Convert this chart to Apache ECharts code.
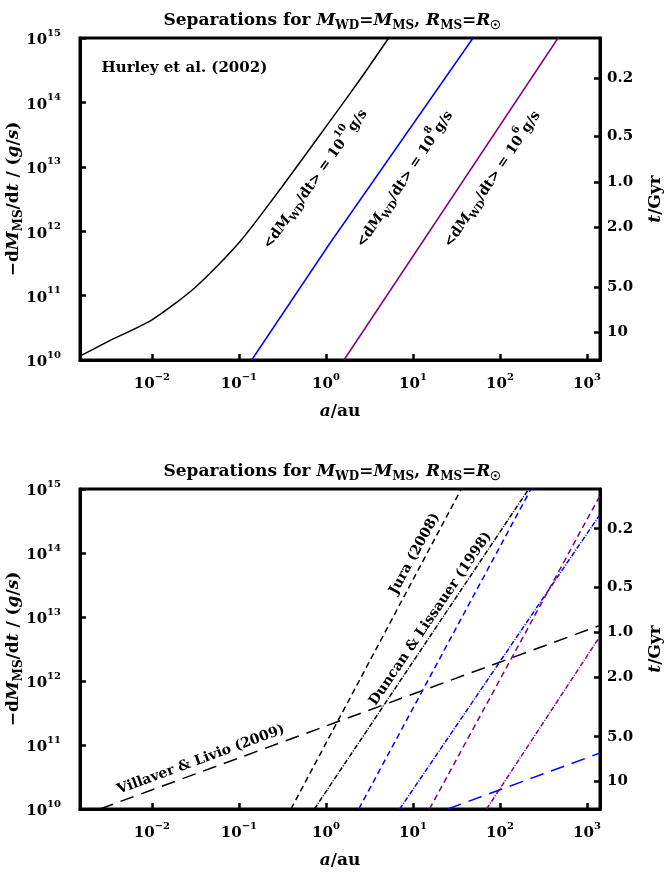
<!DOCTYPE html>
<html><head><meta charset="utf-8">
<script src="https://cdn.jsdelivr.net/npm/echarts@6/dist/echarts.min.js"></script>
<style>html,body{margin:0;padding:0;background:#fff}#c{width:665px;height:872px}</style>
</head><body><div id="c"></div><script>
// ---------------- data ----------------
const xTicks = [0.01, 0.1, 1, 10, 100, 1000];
const yTicks = [1e10, 1e11, 1e12, 1e13, 1e14, 1e15];
const tLabels = ['0.2', '0.5', '1.0', '2.0', '5.0', '10'];
const tTickMdot = [2.4e14, 2.95e13, 5.75e12, 1.15e12, 1.35e11, 2.7e10]; // where the t ticks sit on the mass-loss scale

// top panel (Hurley et al. 2002)
const hurleyBlackA = [0.00149, 0.00316, 0.01, 0.0316, 0.1, 0.316, 1.0, 2.51, 5.25];
const hurleyBlackM = [1.15e10, 1.95e10, 4.2e10, 1.35e11, 6.6e11, 5.0e12, 4.2e13, 2.35e14, 1.0e15];
const hurleyBlueA = [0.14, 1.11, 49];
const hurleyBlueM = [1e10, 6.5e11, 1e15];
const hurleyPurpleA = [1.61, 465];
const hurleyPurpleM = [1e10, 1e15];

// bottom panel
const juraBlackA = [0.396, 35.9];        const juraBlackM = [1e10, 1e15];
const duncanBlackA = [0.735, 214];       const duncanBlackM = [1e10, 1e15];
const villaverBlackA = [0.00252, 1410];  const villaverBlackM = [1e10, 7.4e12];
const juraBlueA = [2.38, 227];           const juraBlueM = [1e10, 1e15];
const duncanBlueA = [7.03, 1410];        const duncanBlueM = [1e10, 4.0e14];
const villaverBlueA = [25.1, 1410];      const villaverBlueM = [1e10, 7.5e10];
const juraPurpleA = [15.5, 1410];        const juraPurpleM = [1e10, 7.9e14];
const duncanPurpleA = [70.1, 1410];      const duncanPurpleM = [1e10, 5.0e12];

// ---------------- styling ----------------
const FONT = '"DejaVu Serif", serif';
const BLACK = '#000', BLUE = '#0000ff', PURPLE = '#800080';
const XMIN = 0.00149, XMAX = 1410, YMIN = 1e10, YMAX = 1e15;

const supRich = {
  b: {fontFamily: FONT, fontWeight: 'bold', fontSize: 15, color: '#000', lineHeight: 20, verticalAlign: 'bottom'},
  p: {fontFamily: FONT, fontWeight: 'bold', fontSize: 10, color: '#000', lineHeight: 20, verticalAlign: 'top', padding: [0, 0, 8, 0]}
};
function powLabel(v) {
  const e = Math.round(Math.log10(v));
  return '{b|10}{p|' + String(e).replace('-', '\u2212') + '}';
}
function pair(a, m) { return a.map((v, i) => [v, m[i]]); }
// keep the topmost tick a hair inside the axis extent so the log scale does not drop it
function inside(vals, max) { return vals.map(v => (v >= max ? v * (1 - 1e-9) : v)); }

function titleText() {
  return '{t|Separations for }{i|M}{s|WD}{t|=}{i|M}{s|MS}{t|, }{i|R}{s|MS}{t|=}{i|R}{s|\u2609}';
}
function mkRich(size, color) {
  return {
    t: {fontFamily: FONT, fontWeight: 'bold', fontSize: size, color: color, lineHeight: size + 6, verticalAlign: 'bottom'},
    i: {fontFamily: FONT, fontWeight: 'bold', fontStyle: 'italic', fontSize: size, color: color, lineHeight: size + 6, verticalAlign: 'bottom'},
    s: {fontFamily: FONT, fontWeight: 'bold', fontSize: Math.round(size * 0.68), color: color, lineHeight: size + 6, verticalAlign: 'bottom', padding: [0, 0, -3, 0]},
    p: {fontFamily: FONT, fontWeight: 'bold', fontSize: Math.round(size * 0.68), color: color, lineHeight: size + 6, verticalAlign: 'top', padding: [0, 0, 8, 0]}
  };
}

function xAxisCfg(gi) {
  return {
    type: 'log', gridIndex: gi, min: XMIN, max: XMAX,
    name: '{i|a}{t|/au}', nameLocation: 'middle', nameGap: 37,
    nameTextStyle: {rich: mkRich(17, '#000')},
    axisLine: {show: true, lineStyle: {color: '#000', width: 3}},
    axisTick: {show: true, inside: true, length: 6, lineStyle: {color: '#000', width: 2.5}, customValues: xTicks},
    axisLabel: {customValues: xTicks, formatter: powLabel, margin: 12, rich: supRich},
    splitLine: {show: false}, minorTick: {show: false}
  };
}
function yAxisCfg(gi) {
  const yt = inside(yTicks, YMAX);
  return {
    type: 'log', gridIndex: gi, min: YMIN, max: YMAX,
    name: '{t|\u2212d}{i|M}{s|MS}{t|/d}{i|t}{t| / (}{i|g}{t|/}{i|s}{t|)}',
    nameLocation: 'middle', nameGap: 58, nameRotate: 90, nameMoveOverlap: false,
    nameTextStyle: {rich: mkRich(17, '#000')},
    axisLine: {show: true, lineStyle: {color: '#000', width: 3}},
    axisTick: {show: true, inside: true, length: 6, lineStyle: {color: '#000', width: 2.5}, customValues: yt},
    axisLabel: {customValues: yt, formatter: powLabel, margin: 19, rich: supRich,
      showMaxLabel: true, showMinLabel: true, hideOverlap: false},
    splitLine: {show: false}
  };
}
function tAxisCfg(gi) {
  return {
    type: 'log', gridIndex: gi, min: YMIN, max: YMAX, position: 'right',
    name: '{i|t}{t|/Gyr}', nameLocation: 'middle', nameGap: 41, nameRotate: 90,
    nameTextStyle: {rich: mkRich(17, '#000')},
    axisLine: {show: true, lineStyle: {color: '#000', width: 3}},
    axisTick: {show: true, inside: true, length: 6, lineStyle: {color: '#000', width: 2.5}, customValues: tTickMdot},
    axisLabel: {customValues: tTickMdot, margin: 7,
      formatter: function (v) {
        let best = 0;
        tTickMdot.forEach((m, i) => { if (Math.abs(Math.log10(m) - Math.log10(v)) < Math.abs(Math.log10(tTickMdot[best]) - Math.log10(v))) best = i; });
        return tLabels[best];
      },
      fontFamily: FONT, fontWeight: 'bold', fontSize: 15, color: '#000'},
    splitLine: {show: false}
  };
}
function line(gi, a, m, color, dash, smooth) {
  return {
    type: 'line', xAxisIndex: gi, yAxisIndex: gi * 2, data: pair(a, m),
    showSymbol: false, symbol: 'none', smooth: smooth || false, silent: true,
    lineStyle: {color: color, width: 1.5, type: dash || 'solid'}, clip: true
  };
}

const chart = echarts.init(document.getElementById('c'), null, {renderer: 'canvas'});
const gridBase = {left: 80, right: 65, show: true, borderColor: '#000', borderWidth: 3, containLabel: false, outerBoundsMode: 'none'};
const option = {
  backgroundColor: '#fff',
  animation: false,
  title: [
    {text: titleText(), left: 'center', top: 1, textStyle: {rich: mkRich(17, '#000')}},
    {text: titleText(), left: 'center', top: 452, textStyle: {rich: mkRich(17, '#000')}}
  ],
  grid: [
    Object.assign({top: 38, height: 322}, gridBase),
    Object.assign({top: 489, height: 320}, gridBase)
  ],
  xAxis: [xAxisCfg(0), xAxisCfg(1)],
  yAxis: [yAxisCfg(0), tAxisCfg(0), yAxisCfg(1), tAxisCfg(1)],
  series: [
    line(0, hurleyBlackA, hurleyBlackM, BLACK, null, 0.25),
    line(0, hurleyBlueA, hurleyBlueM, BLUE),
    line(0, hurleyPurpleA, hurleyPurpleM, PURPLE),
    line(1, juraBlackA, juraBlackM, BLACK, [6, 4]),
    line(1, duncanBlackA, duncanBlackM, BLACK, [5, 1.5, 1, 1.5]),
    line(1, villaverBlackA, villaverBlackM, BLACK, [14, 8]),
    line(1, juraBlueA, juraBlueM, BLUE, [6, 4]),
    line(1, duncanBlueA, duncanBlueM, BLUE, [5, 1.5, 1, 1.5]),
    line(1, villaverBlueA, villaverBlueM, BLUE, [14, 8]),
    line(1, juraPurpleA, juraPurpleM, PURPLE, [6, 4]),
    line(1, duncanPurpleA, duncanPurpleM, PURPLE, [5, 1.5, 1, 1.5])
  ]
};
chart.setOption(option);

// ---------------- in-plot annotations, placed in data coordinates ----------------
const notes = [
  {g: 0, a: 0.71, m: 6.8e12, slope: 1.88, color: BLACK, text: '{t|<d}{i|M}{s|WD}{t|/dt> = 10}{p|10}{t|g/s}'},
  {g: 0, a: 7.57, m: 6.8e12, slope: 2.0, color: BLUE, text: '{t|<d}{i|M}{s|WD}{t|/dt> = 10}{p|8}{t|g/s}'},
  {g: 0, a: 76.7, m: 6.8e12, slope: 2.0, color: PURPLE, text: '{t|<d}{i|M}{s|WD}{t|/dt> = 10}{p|6}{t|g/s}'},
  {g: 0, a: 0.00264, m: 3.8e14, slope: 0, color: BLACK, size: 15, text: '{t|Hurley et al. (2002)}', align: 'left'},
  {g: 1, a: 9.75, m: 1.02e14, slope: 2.5, color: BLACK, text: '{t|Jura (2008)}'},
  {g: 1, a: 14.9, m: 1.0e13, slope: 2.0, color: BLACK, text: '{t|Duncan & Lissauer (1998)}'},
  {g: 1, a: 0.0356, m: 6.5e10, slope: 0.5, color: BLACK, text: '{t|Villaver & Livio (2009)}'}
];
const graphics = notes.map(n => {
  const p = chart.convertToPixel({xAxisIndex: n.g, yAxisIndex: n.g * 2}, [n.a, n.m]);
  const p0 = chart.convertToPixel({xAxisIndex: n.g, yAxisIndex: n.g * 2}, [1, 1e12]);
  const p1 = chart.convertToPixel({xAxisIndex: n.g, yAxisIndex: n.g * 2}, [10, 1e13]);
  const pxX = p1[0] - p0[0], pxY = p0[1] - p1[1];
  const ang = Math.atan2(n.slope * pxY, pxX);
  return {
    type: 'text', x: p[0], y: p[1], rotation: ang, silent: true, z: 10,
    style: {text: n.text, align: n.align || 'center', verticalAlign: 'middle', rich: mkRich(n.size || 14, n.color)}
  };
});
chart.setOption({graphic: graphics});
</script></body></html>
